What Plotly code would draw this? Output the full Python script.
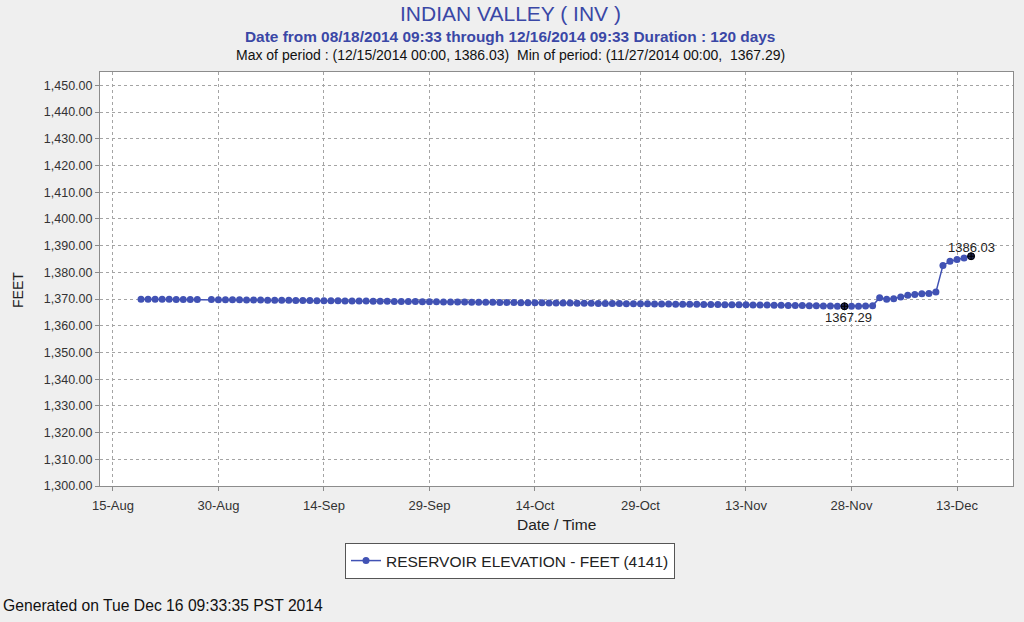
import pandas as pd
import plotly.graph_objects as go

# ---- data ----
seg1_start, seg1_end = "2014-08-19", "2014-08-27"
seg2_start, seg2_end = "2014-08-29", "2014-12-15"

elev_seg1 = [1369.96, 1369.94, 1369.93, 1369.91, 1369.89, 1369.87, 1369.86, 1369.84, 1369.82]
elev_aug = [1369.78, 1369.76, 1369.74]
elev_sep = [1369.71, 1369.69, 1369.66, 1369.63, 1369.61, 1369.58, 1369.56, 1369.53, 1369.50, 1369.48,
            1369.45, 1369.43, 1369.40, 1369.37, 1369.35, 1369.32, 1369.30, 1369.27, 1369.24, 1369.22,
            1369.19, 1369.17, 1369.14, 1369.11, 1369.09, 1369.06, 1369.04, 1369.01, 1368.98, 1368.96]
elev_oct = [1368.93, 1368.91, 1368.88, 1368.86, 1368.83, 1368.80, 1368.78, 1368.75, 1368.73, 1368.70,
            1368.68, 1368.65, 1368.62, 1368.60, 1368.57, 1368.55, 1368.52, 1368.50, 1368.47, 1368.44,
            1368.42, 1368.39, 1368.37, 1368.34, 1368.32, 1368.29, 1368.26, 1368.24, 1368.21, 1368.19, 1368.16]
elev_nov = [1368.14, 1368.11, 1368.08, 1368.06, 1368.03, 1368.01, 1367.98, 1367.95, 1367.93, 1367.90,
            1367.88, 1367.85, 1367.82, 1367.80, 1367.77, 1367.74, 1367.70, 1367.66, 1367.62, 1367.58,
            1367.54, 1367.50, 1367.46, 1367.42, 1367.38, 1367.34, 1367.29, 1367.31, 1367.33, 1367.36]
elev_dec = [1367.45, 1370.50, 1369.90, 1370.10, 1370.80, 1371.40, 1371.70, 1372.00, 1372.10, 1372.60,
            1382.60, 1384.10, 1384.80, 1385.40, 1386.03]

ytick_vals = [1300, 1310, 1320, 1330, 1340, 1350, 1360, 1370, 1380, 1390, 1400, 1410, 1420, 1430, 1440, 1450]

title_main = "INDIAN VALLEY ( INV )"
title_sub = "Date from 08/18/2014 09:33 through 12/16/2014 09:33 Duration : 120 days"
title_stats = "Max of period : (12/15/2014 00:00, 1386.03)  Min of period: (11/27/2014 00:00,  1367.29)"
series_name = "RESERVOIR ELEVATION - FEET (4141)"
footer = "Generated on Tue Dec 16 09:33:35 PST 2014"

# ---- build ----
dates = list(pd.date_range(seg1_start, seg1_end, freq="D")) + list(pd.date_range(seg2_start, seg2_end, freq="D"))
values = elev_seg1 + elev_aug + elev_sep + elev_oct + elev_nov + elev_dec

imax = max(range(len(values)), key=lambda i: values[i])
imin = min(range(len(values)), key=lambda i: values[i])

W, H = 1024, 622
ML, MR, MT, MB = 100, 11, 72, 136
PW, PH = W - ML - MR, H - MT - MB

sans = "Liberation Sans, Arial, sans-serif"
blue = "#3a47a6"
line_blue = "#4152b4"
grid = "#a4a4a4"
frame = "#8c8c8c"

fig = go.Figure()
fig.add_trace(go.Scatter(
    x=dates, y=values, mode="lines+markers", name=series_name,
    line=dict(color=line_blue, width=1.5),
    marker=dict(color=line_blue, size=7, symbol="circle"),
))
fig.add_trace(go.Scatter(
    x=[dates[imin], dates[imax]], y=[values[imin], values[imax]], mode="markers",
    showlegend=False, hoverinfo="skip",
    marker=dict(color="rgba(0,0,0,0.55)", size=7, symbol="circle-cross", line=dict(color="black", width=1)),
))

def px_x(p):
    return (p - ML) / PW

def px_y(p):
    return (H - MB - p) / PH

ann = [
    dict(text=title_main, x=px_x(510), y=px_y(13), font=dict(family=sans, size=21, color=blue)),
    dict(text="<b>" + title_sub + "</b>", x=px_x(510), y=px_y(36), font=dict(family=sans, size=15.4, color=blue)),
    dict(text=title_stats, x=px_x(510), y=px_y(55), font=dict(family=sans, size=14, color="#111")),
    dict(text="Date / Time", x=px_x(556), y=px_y(524), font=dict(family=sans, size=15.5, color="#222")),
    dict(text="FEET", x=px_x(18), y=px_y(290), textangle=-90, font=dict(family=sans, size=14, color="#222")),
    dict(text=footer, x=px_x(1), y=px_y(605), xanchor="left", font=dict(family=sans, size=15.7, color="#111")),
]
for a in ann:
    a.setdefault("xanchor", "center")
    fig.add_annotation(xref="paper", yref="paper", yanchor="middle", showarrow=False, **a)

fig.add_annotation(x=dates[imax], y=values[imax], text=f"{values[imax]:.2f}", showarrow=False,
                   yshift=9, font=dict(family=sans, size=13, color="#222"))
fig.add_annotation(x=dates[imin], y=values[imin], text=f"{values[imin]:.2f}", showarrow=False,
                   yshift=-11, xshift=4, font=dict(family=sans, size=13, color="#222"))

fig.update_layout(
    width=W, height=H, margin=dict(l=ML, r=MR, t=MT, b=MB),
    paper_bgcolor="#efefef", plot_bgcolor="white",
    showlegend=True,
    legend=dict(orientation="h", x=px_x(510), xanchor="center", y=px_y(543), yanchor="top",
                bgcolor="white", bordercolor="#555", borderwidth=1,
                font=dict(family=sans, size=15.5, color="#222"), itemwidth=30),
)
fig.update_xaxes(
    type="date", range=["2014-08-13 04:00", "2014-12-20 23:00"],
    tick0="2014-08-15", dtick=15 * 86400000, tickformat="%d-%b",
    showgrid=True, gridcolor=grid, griddash="3px,3px", gridwidth=1,
    showline=True, linecolor=frame, mirror=True, linewidth=1,
    ticks="outside", ticklen=4, tickcolor=frame, ticklabelstandoff=3,
    tickfont=dict(family=sans, size=13, color="#333"), zeroline=False,
)
fig.update_yaxes(
    range=[1300, 1455], tickvals=ytick_vals, tickformat=",.2f",
    showgrid=True, gridcolor=grid, griddash="3px,3px", gridwidth=1,
    showline=True, linecolor=frame, mirror=True, linewidth=1,
    ticks="outside", ticklen=4, tickcolor=frame,
    tickfont=dict(family=sans, size=12.5, color="#333"), zeroline=False,
)

fig.write_html("out.html", config={"displayModeBar": False},
               post_script="document.body.style.margin='0';document.body.style.overflow='hidden';")
